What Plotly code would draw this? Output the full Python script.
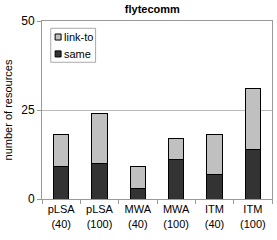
import plotly.graph_objects as go

categories = ["pLSA<br>(40)", "pLSA<br>(100)", "MWA<br>(40)", "MWA<br>(100)", "ITM<br>(40)", "ITM<br>(100)"]
same = [9, 10, 3, 11, 7, 14]
link_to = [9, 14, 6, 6, 11, 17]
y_ticks = [0, 25, 50]
series_names = ["link-to", "same"]
series_colors = ["#c0c0c0", "#333333"]

fig = go.Figure()
fig.add_trace(go.Bar(x=categories, y=same, name="same", showlegend=False,
                     marker=dict(color="#333333", line=dict(color="black", width=1))))
fig.add_trace(go.Bar(x=categories, y=link_to, name="link-to", showlegend=False,
                     marker=dict(color="#c0c0c0", line=dict(color="black", width=1))))

# compact legend drawn in plot-area coordinates
shapes = [dict(type="rect", xref="paper", yref="paper", x0=0.038, x1=0.233, y0=0.768, y1=0.959,
               line=dict(color="#aaaaaa", width=1), fillcolor="white", layer="above")]
annotations = []
for i, (nm, col) in enumerate(zip(series_names, series_colors)):
    yc = 0.910 - i * 0.095
    shapes.append(dict(type="rect", xref="paper", yref="paper", x0=0.057, x1=0.083,
                       y0=yc - 0.017, y1=yc + 0.017, fillcolor=col,
                       line=dict(color="black", width=1), layer="above"))
    annotations.append(dict(text=nm, xref="paper", yref="paper", x=0.088, y=yc,
                            xanchor="left", yanchor="middle", showarrow=False,
                            font=dict(size=11)))

fig.update_layout(
    width=277, height=240,
    barmode="stack", bargap=0.6,
    margin=dict(l=42, r=5, t=21, b=41),
    paper_bgcolor="white", plot_bgcolor="white",
    font=dict(family="Liberation Sans, Arial, sans-serif", size=11, color="black"),
    title=dict(text="<b>flytecomm</b>", x=0.55, xanchor="center", y=0.963, yanchor="middle",
               font=dict(size=11)),
    showlegend=False,
    shapes=shapes, annotations=annotations,
    xaxis=dict(showline=True, linecolor="#999999", mirror=True, ticks="outside",
               tickson="boundaries", ticklen=4, tickcolor="#999999", tickfont=dict(size=11)),
    yaxis=dict(range=[0, 50], tickvals=y_ticks, showline=True, linecolor="#999999", mirror=True,
               ticks="outside", ticklen=4, tickcolor="#999999", showgrid=True, gridcolor="#bbbbbb",
               zeroline=False, tickfont=dict(size=12),
               title=dict(text="number of resources", font=dict(size=11), standoff=6)),
)

fig.write_html("out.html", config={"displayModeBar": False},
               post_script="document.body.style.margin='0';")
